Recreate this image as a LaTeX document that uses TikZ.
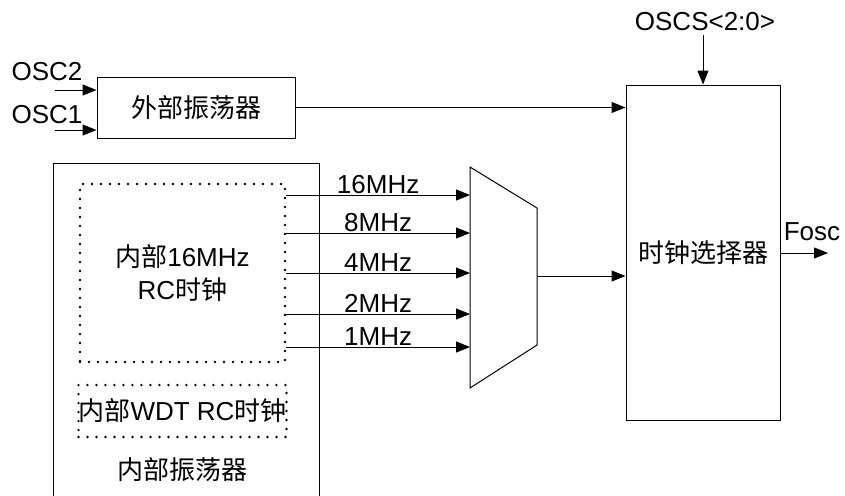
\documentclass[tikz,border=0pt]{standalone}
\usepackage{fontspec}
\setmainfont{Liberation Sans}
\newfontfamily\cjk{Noto Sans CJK SC}
\usetikzlibrary{positioning, calc, arrows.meta}
\definecolor{Ink}{HTML}{000000}
\tikzset{
    blockbox/.style={rectangle, draw=Ink, line width=0.5pt, align=center, font=\fontsize{13}{16.5}\selectfont, inner sep=0pt},
    dotbox/.style={rectangle, draw=Ink, line width=1.3pt, dash pattern=on 0pt off 4.5pt, line cap=round, align=center, font=\fontsize{13}{16.5}\selectfont, inner sep=0pt},
    sig/.style={font=\fontsize{13}{15}\selectfont, inner sep=1pt},
    arrow/.style={-{Triangle[length=7pt, width=5.5pt]}, line width=0.5pt, color=Ink},
}

\begin{document}
\begin{tikzpicture}[x=0.5pt, y=-0.5pt]
        \useasboundingbox (0,0) rectangle (845,495);

        % External oscillator
        \node[blockbox, minimum width=99pt, minimum height=30.5pt] (ext) at (196,107.5) {\cjk 外部振荡器};
        \node[sig] (osc2) at (47,72) {OSC2};
        \node[sig] (osc1) at (47,115) {OSC1};
        \coordinate (osc2in) at (55,90);
        \coordinate (osc1in) at (55,130);
        \draw[arrow] (osc2in) -- (osc2in -| ext.west);
        \draw[arrow] (osc1in) -- (osc1in -| ext.west);

        % Clock selector
        \node[blockbox, minimum width=77pt, minimum height=167.5pt] (sel) at (703,252.5) {\cjk 时钟选择器};
        \node[sig] (oscs) at (705,22) {OSCS<2:0>};
        \coordinate (oscsin) at (703,35);
        \draw[arrow] (oscsin) -- (sel.north);
        \draw[arrow] (ext.east) -- (ext.east -| sel.west);
        \coordinate (foscout) at (828,253);
        \draw[arrow] (sel.east |- foscout) -- (foscout);
        \node[sig] (fosc) at (812,232) {Fosc};

        % Internal oscillator
        \draw[line width=0.5pt] (53,500) -- (53,163) -- (319,163) -- (319,500);
        \node[font=\fontsize{13}{15}\selectfont] (intlabel) at (182,470) {\cjk 内部振荡器};
        \node[dotbox, minimum width=102.5pt, minimum height=89pt] (rc16) at (182.5,273) {{\cjk 内部}16MHz\\RC{\cjk 时钟}};
        \node[dotbox, minimum width=102.5pt, minimum height=26pt] (wdt) at (182.5,411) {{\cjk 内部}WDT RC{\cjk 时钟}};

        % Divider mux
        \coordinate (muxtl) at (470,167);
        \coordinate (muxtr) at (537,208);
        \coordinate (muxbr) at (537,345);
        \coordinate (muxbl) at (470,388);
        \draw[line width=0.5pt] (muxtl) -- (muxtr) -- (muxbr) -- (muxbl) -- cycle;
        \coordinate (muxout) at (537,276);
        \draw[arrow] (muxout) -- (muxout -| sel.west);

        \foreach \y/\f in {195/16MHz, 233/8MHz, 273/4MHz, 314/2MHz, 347/1MHz}{
            \coordinate (in\f) at (470,\y);
            \draw[arrow] (rc16.east |- in\f) -- node[sig, above, inner sep=0.3pt] {\f} (in\f);
        }
    \end{tikzpicture}
\end{document}
